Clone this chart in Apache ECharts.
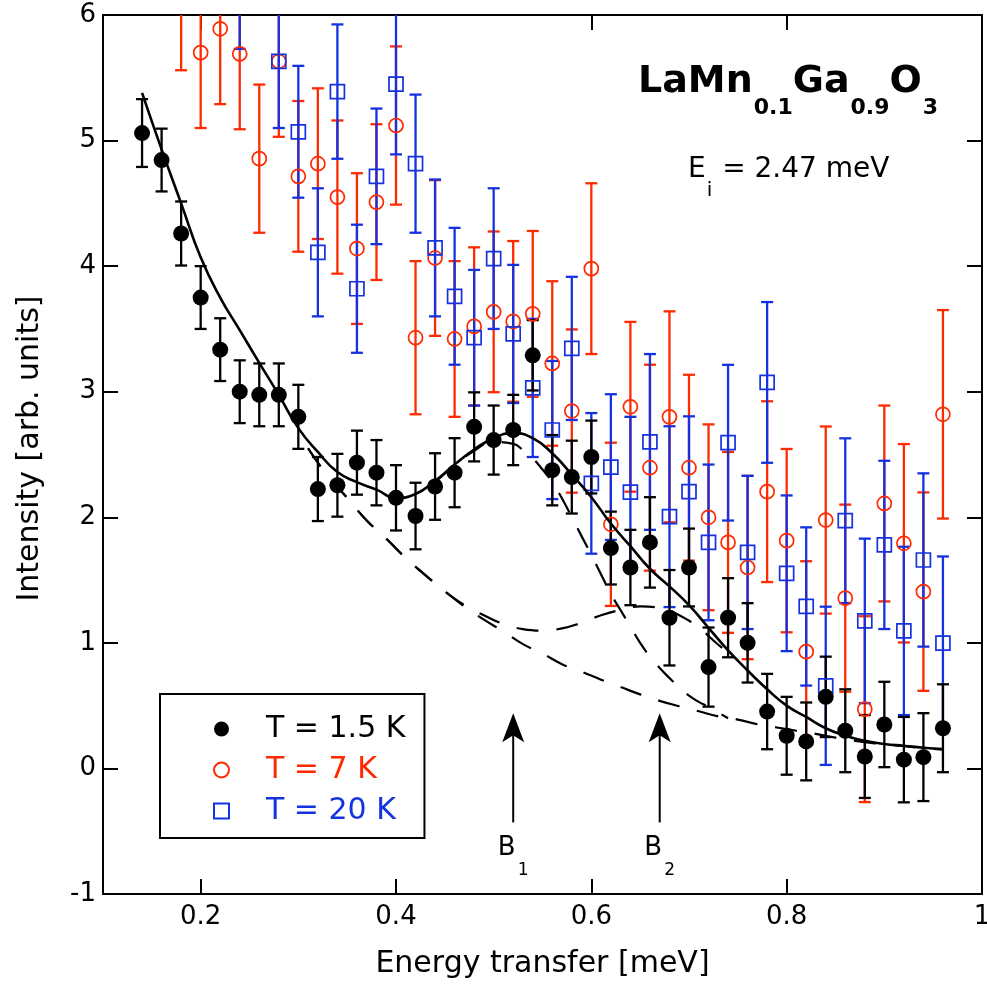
<!DOCTYPE html>
<html>
<head>
<meta charset="utf-8">
<title>LaMn0.1Ga0.9O3</title>
<script src="https://cdn.jsdelivr.net/npm/echarts@6/dist/echarts.min.js"></script>
<style>html,body{margin:0;padding:0;background:#fff;}</style>
</head>
<body>
<div id="main" style="width:987px;height:991px;"></div>
<script type="text/javascript">
// energy transfer (meV) and intensity
var xBlack = [0.14,0.16,0.18,0.20,0.22,0.24,0.26,0.28,0.30,0.32,0.34,0.36,0.38,0.40,0.42,0.44,0.46,0.48,0.50,0.52,0.54,0.56,0.58,0.60,0.62,0.64,0.66,0.68,0.70,0.72,0.74,0.76,0.78,0.80,0.82,0.84,0.86,0.88,0.90,0.92,0.94,0.96];
var yBlack = [5.06,4.845,4.26,3.75,3.335,3.0,2.975,2.975,2.80,2.225,2.255,2.435,2.355,2.155,2.01,2.245,2.355,2.72,2.615,2.695,3.29,2.375,2.32,2.48,1.755,1.60,1.80,1.20,1.60,0.807,1.20,1.00,0.453,0.26,0.215,0.57,0.30,0.095,0.35,0.07,0.09,0.32];
var eBlack = [0.27,0.25,0.255,0.25,0.25,0.25,0.25,0.25,0.255,0.255,0.25,0.255,0.26,0.26,0.265,0.265,0.275,0.275,0.275,0.28,0.28,0.28,0.29,0.29,0.29,0.30,0.36,0.38,0.31,0.315,0.315,0.316,0.30,0.31,0.31,0.32,0.33,0.33,0.34,0.34,0.35,0.35];

var xRed = [0.18,0.20,0.22,0.24,0.26,0.28,0.30,0.32,0.34,0.36,0.38,0.40,0.42,0.44,0.46,0.48,0.50,0.52,0.54,0.56,0.58,0.60,0.62,0.64,0.66,0.68,0.70,0.72,0.74,0.76,0.78,0.80,0.82,0.84,0.86,0.88,0.90,0.92,0.94,0.96];
var yRed = [6.16,5.70,5.89,5.69,4.856,5.63,4.715,4.816,4.55,4.14,4.51,5.12,3.43,4.065,3.42,3.52,3.636,3.56,3.62,3.225,2.846,3.98,1.944,2.88,2.395,2.80,2.395,2.0,1.80,1.60,2.204,1.814,0.93,1.978,1.356,0.472,2.11,1.793,1.408,2.82];
var eRed = [0.6,0.6,0.6,0.6,0.59,0.6,0.6,0.6,0.61,0.6,0.62,0.63,0.61,0.62,0.62,0.63,0.64,0.64,0.66,0.655,0.65,0.68,0.65,0.676,0.82,0.84,0.74,0.74,0.72,0.73,0.72,0.73,0.72,0.745,0.745,0.74,0.78,0.79,0.79,0.83];

var xBlue = [0.24,0.28,0.30,0.32,0.34,0.36,0.38,0.40,0.42,0.44,0.46,0.48,0.50,0.52,0.54,0.56,0.58,0.60,0.62,0.64,0.66,0.68,0.70,0.72,0.74,0.76,0.78,0.80,0.82,0.84,0.86,0.88,0.90,0.92,0.94,0.96];
var yBlue = [6.25,5.63,5.07,4.11,5.39,3.82,4.715,5.45,4.816,4.145,3.76,3.43,4.06,3.46,3.03,2.695,3.345,2.27,2.40,2.20,2.60,2.005,2.204,1.80,2.594,1.72,3.074,1.554,1.29,0.658,1.973,1.175,1.78,1.095,1.66,0.998];
var eBlue = [0.52,0.53,0.525,0.51,0.535,0.51,0.54,0.56,0.55,0.545,0.545,0.54,0.56,0.55,0.55,0.55,0.57,0.56,0.58,0.6,0.70,0.72,0.60,0.62,0.62,0.61,0.64,0.62,0.63,0.63,0.656,0.655,0.67,0.67,0.69,0.69];

// fit curves
var fitX = [0.14,0.16,0.18,0.20,0.22,0.24,0.26,0.28,0.30,0.32,0.34,0.36,0.38,0.40,0.42,0.44,0.46,0.48,0.50,0.52,0.54,0.56,0.58,0.60,0.62,0.64,0.66,0.68,0.70,0.72,0.74,0.76,0.78,0.80,0.82,0.84,0.86,0.88,0.90,0.92,0.94,0.96];
var fitY = [5.38,4.93,4.50,4.07,3.75,3.49,3.23,2.975,2.71,2.52,2.36,2.28,2.22,2.155,2.185,2.29,2.42,2.54,2.63,2.67,2.63,2.51,2.34,2.16,1.95,1.77,1.59,1.45,1.30,1.12,0.94,0.78,0.63,0.50,0.41,0.32,0.26,0.22,0.195,0.18,0.165,0.155];
var bgX = [0.31,0.33,0.35,0.37,0.39,0.41,0.43,0.45,0.47,0.49,0.51,0.53,0.55,0.57,0.59,0.61,0.63,0.65,0.67,0.69,0.71,0.73,0.75,0.77,0.79,0.81,0.83,0.85,0.87,0.89,0.91,0.93,0.96];
var bgY = [2.55,2.33,2.155,1.975,1.83,1.675,1.54,1.41,1.29,1.185,1.09,0.99,0.915,0.83,0.77,0.707,0.648,0.59,0.538,0.495,0.455,0.415,0.389,0.352,0.326,0.30,0.275,0.245,0.22,0.20,0.185,0.17,0.15];
var b2X = [0.31,0.33,0.35,0.37,0.39,0.41,0.43,0.45,0.47,0.49,0.51,0.53,0.55,0.57,0.59,0.61,0.63,0.65,0.67,0.69,0.71,0.73,0.75];
var b2Y = [2.55,2.33,2.155,1.975,1.83,1.675,1.54,1.41,1.30,1.22,1.15,1.11,1.098,1.115,1.16,1.22,1.262,1.29,1.28,1.22,1.12,0.985,0.86];
var b1X = [0.44,0.46,0.48,0.50,0.52,0.53,0.54,0.55,0.56,0.57,0.58,0.59,0.60,0.61,0.62,0.63,0.64,0.65,0.66,0.67,0.68,0.69,0.70,0.71,0.72,0.73,0.74];
var b1Y = [2.28,2.41,2.53,2.60,2.585,2.535,2.47,2.38,2.28,2.15,2.00,1.85,1.70,1.545,1.39,1.26,1.13,1.00,0.89,0.80,0.72,0.645,0.58,0.53,0.49,0.445,0.40];

// peak markers
var arrowX = [0.52, 0.67];
var arrowSub = ['1', '2'];
var arrowFrom = -0.43, arrowTo = 0.44, arrowLabelY = -0.53;

var xTicks = [0.2, 0.4, 0.6, 0.8, 1];

var FONT = 'DejaVu Sans';
var RED = '#ff2a00';
var BLUE = '#1532e0';

function pairs(xs, ys) {
    return xs.map(function (x, i) { return [x, ys[i]]; });
}
function bars(xs, ys, es) {
    return xs.map(function (x, i) { return [x, ys[i] - es[i], ys[i] + es[i]]; });
}

function errorBars(color) {
    return function (params, api) {
        var x = api.value(0);
        var lo = api.coord([x, api.value(1)]);
        var hi = api.coord([x, api.value(2)]);
        var top = params.coordSys.y;
        var bottom = params.coordSys.y + params.coordSys.height;
        var w = 6;
        var st = { stroke: color, lineWidth: 2.3 };
        var kids = [{
            type: 'line',
            shape: { x1: lo[0], y1: Math.min(lo[1], bottom), x2: hi[0], y2: Math.max(hi[1], top) },
            style: st
        }];
        if (hi[1] >= top) kids.push({ type: 'line', shape: { x1: hi[0] - w, y1: hi[1], x2: hi[0] + w, y2: hi[1] }, style: st });
        if (lo[1] <= bottom) kids.push({ type: 'line', shape: { x1: lo[0] - w, y1: lo[1], x2: lo[0] + w, y2: lo[1] }, style: st });
        return { type: 'group', children: kids };
    };
}

function arrowItem(params, api) {
    var x = api.value(0);
    var p0 = api.coord([x, api.value(1)]);
    var p1 = api.coord([x, api.value(2)]);
    var pl = api.coord([x, api.value(3)]);
    var sub = arrowSub[params.dataIndex];
    return {
        type: 'group',
        children: [
            { type: 'line', shape: { x1: p0[0], y1: p0[1], x2: p1[0], y2: p1[1] + 20 }, style: { stroke: '#000', lineWidth: 2 } },
            { type: 'polygon', shape: { points: [[p1[0], p1[1]], [p1[0] - 11, p1[1] + 29], [p1[0], p1[1] + 22], [p1[0] + 11, p1[1] + 29]] }, style: { fill: '#000' } },
            {
                type: 'text', x: pl[0], y: pl[1],
                style: {
                    text: '{b|B}{s|' + sub + '}', align: 'center', verticalAlign: 'top',
                    rich: {
                        b: { fontFamily: FONT, fontSize: 26, lineHeight: 26, fill: '#000', verticalAlign: 'top' },
                        s: { fontFamily: FONT, fontSize: 17, lineHeight: 17, fill: '#000', verticalAlign: 'top', padding: [27, 0, 0, 2] }
                    }
                }
            }
        ]
    };
}

var axisCommon = {
    type: 'value',
    axisLine: { show: true, onZero: false, lineStyle: { color: '#000', width: 2 } },
    splitLine: { show: false }
};

var myChart = echarts.init(document.getElementById('main'));

var option = {
    animation: false,
    backgroundColor: '#fff',
    grid: { left: 103, top: 15, width: 879, height: 879, outerBoundsMode: 'none' },
    title: [{
        text: '{m|LaMn}{s|0.1}{m|Ga}{s|0.9}{m|O}{s|3}',
        left: 638, top: 63, padding: 0,
        textStyle: {
            rich: {
                m: { fontFamily: FONT, fontWeight: 'bold', fontSize: 38, lineHeight: 38, color: '#000', verticalAlign: 'top' },
                s: { fontFamily: FONT, fontWeight: 'bold', fontSize: 22, lineHeight: 22, color: '#000', verticalAlign: 'top', padding: [34, 0, 0, 1] }
            }
        }
    }, {
        text: '{m|E}{s|i}{m| = 2.47 meV}',
        left: 688, top: 156, padding: 0,
        textStyle: {
            fontWeight: 'normal',
            rich: {
                m: { fontFamily: FONT, fontWeight: 'normal', fontSize: 28, lineHeight: 28, color: '#000', verticalAlign: 'top' },
                s: { fontFamily: FONT, fontWeight: 'normal', fontSize: 20, lineHeight: 20, color: '#000', verticalAlign: 'top', padding: [25, 1, 0, 1] }
            }
        }
    }],
    legend: {
        data: [
            { name: 'T = 1.5 K', textStyle: { color: '#000' } },
            { name: 'T = 7 K', textStyle: { color: RED } },
            { name: 'T = 20 K', textStyle: { color: BLUE } }
        ],
        orient: 'vertical',
        left: 160, top: 694,
        padding: [20, 19, 12, 53],
        itemWidth: 15, itemHeight: 15, itemGap: 11,
        borderColor: '#000', borderWidth: 2, borderRadius: 0,
        selectedMode: false,
        textStyle: { fontFamily: FONT, fontSize: 30, lineHeight: 30, padding: [0, 0, 0, 32] }
    },
    xAxis: [
        Object.assign({}, axisCommon, {
            min: 0.1, max: 1, position: 'bottom',
            axisTick: { show: true, inside: true, length: 15, customValues: xTicks, lineStyle: { color: '#000', width: 2 } },
            axisLabel: { customValues: xTicks, fontFamily: FONT, fontSize: 26, color: '#000', margin: 10 },
            name: 'Energy transfer [meV]', nameLocation: 'middle', nameGap: 55,
            nameTextStyle: { fontFamily: FONT, fontSize: 30, color: '#000' }
        }),
        Object.assign({}, axisCommon, {
            min: 0.1, max: 1, position: 'top',
            axisTick: { show: true, inside: true, length: 15, customValues: xTicks, lineStyle: { color: '#000', width: 2 } },
            axisLabel: { show: false }
        })
    ],
    yAxis: [
        Object.assign({}, axisCommon, {
            min: -1, max: 6, interval: 1, position: 'left',
            axisTick: { show: true, inside: true, length: 15, lineStyle: { color: '#000', width: 2 } },
            axisLabel: { fontFamily: FONT, fontSize: 26, color: '#000', margin: 7 },
            name: 'Intensity [arb. units]', nameLocation: 'middle', nameGap: 58,
            nameTextStyle: { fontFamily: FONT, fontSize: 30, color: '#000', padding: [0, 0, 0, 12] }
        }),
        Object.assign({}, axisCommon, {
            min: -1, max: 6, interval: 1, position: 'right',
            axisTick: { show: true, inside: true, length: 15, lineStyle: { color: '#000', width: 2 } },
            axisLabel: { show: false }
        })
    ],
    series: [
        { name: 'err7', type: 'custom', renderItem: errorBars(RED), data: bars(xRed, yRed, eRed), encode: { x: 0, y: [1, 2] }, silent: true },
        {
            name: 'T = 7 K', type: 'scatter', data: pairs(xRed, yRed), symbol: 'circle', symbolSize: 14,
            itemStyle: { color: 'rgba(255,255,255,0)', borderColor: RED, borderWidth: 1.7, opacity: 1 }
        },
        { name: 'err20', type: 'custom', renderItem: errorBars(BLUE), data: bars(xBlue, yBlue, eBlue), encode: { x: 0, y: [1, 2] }, silent: true },
        {
            name: 'T = 20 K', type: 'scatter', data: pairs(xBlue, yBlue), symbol: 'rect', symbolSize: 14,
            itemStyle: { color: 'rgba(255,255,255,0)', borderColor: BLUE, borderWidth: 1.7, opacity: 1 }
        },
        { name: 'err15', type: 'custom', renderItem: errorBars('#000'), data: bars(xBlack, yBlack, eBlack), encode: { x: 0, y: [1, 2] }, silent: true },
        {
            name: 'T = 1.5 K', type: 'scatter', data: pairs(xBlack, yBlack), symbol: 'circle', symbolSize: 16,
            itemStyle: { color: '#000', opacity: 1 }
        },
        {
            name: 'fit', type: 'line', data: pairs(fitX, fitY), smooth: true, showSymbol: false, silent: true,
            lineStyle: { color: '#000', width: 2.6 }
        },
        {
            name: 'background', type: 'line', data: pairs(bgX, bgY), smooth: true, showSymbol: false, silent: true,
            lineStyle: { color: '#000', width: 2.2, type: [22, 18] }
        },
        {
            name: 'bg+B2', type: 'line', data: pairs(b2X, b2Y), smooth: true, showSymbol: false, silent: true,
            lineStyle: { color: '#000', width: 2.2, type: [22, 18] }
        },
        {
            name: 'bg+B1', type: 'line', data: pairs(b1X, b1Y), smooth: true, showSymbol: false, silent: true,
            lineStyle: { color: '#000', width: 2.2, type: [22, 18] }
        },
        {
            name: 'arrows', type: 'custom', renderItem: arrowItem, silent: true,
            data: arrowX.map(function (x) { return [x, arrowFrom, arrowTo, arrowLabelY]; }),
            encode: { x: 0, y: [1, 2] }
        }
    ]
};

myChart.setOption(option);
</script>
</body>
</html>
